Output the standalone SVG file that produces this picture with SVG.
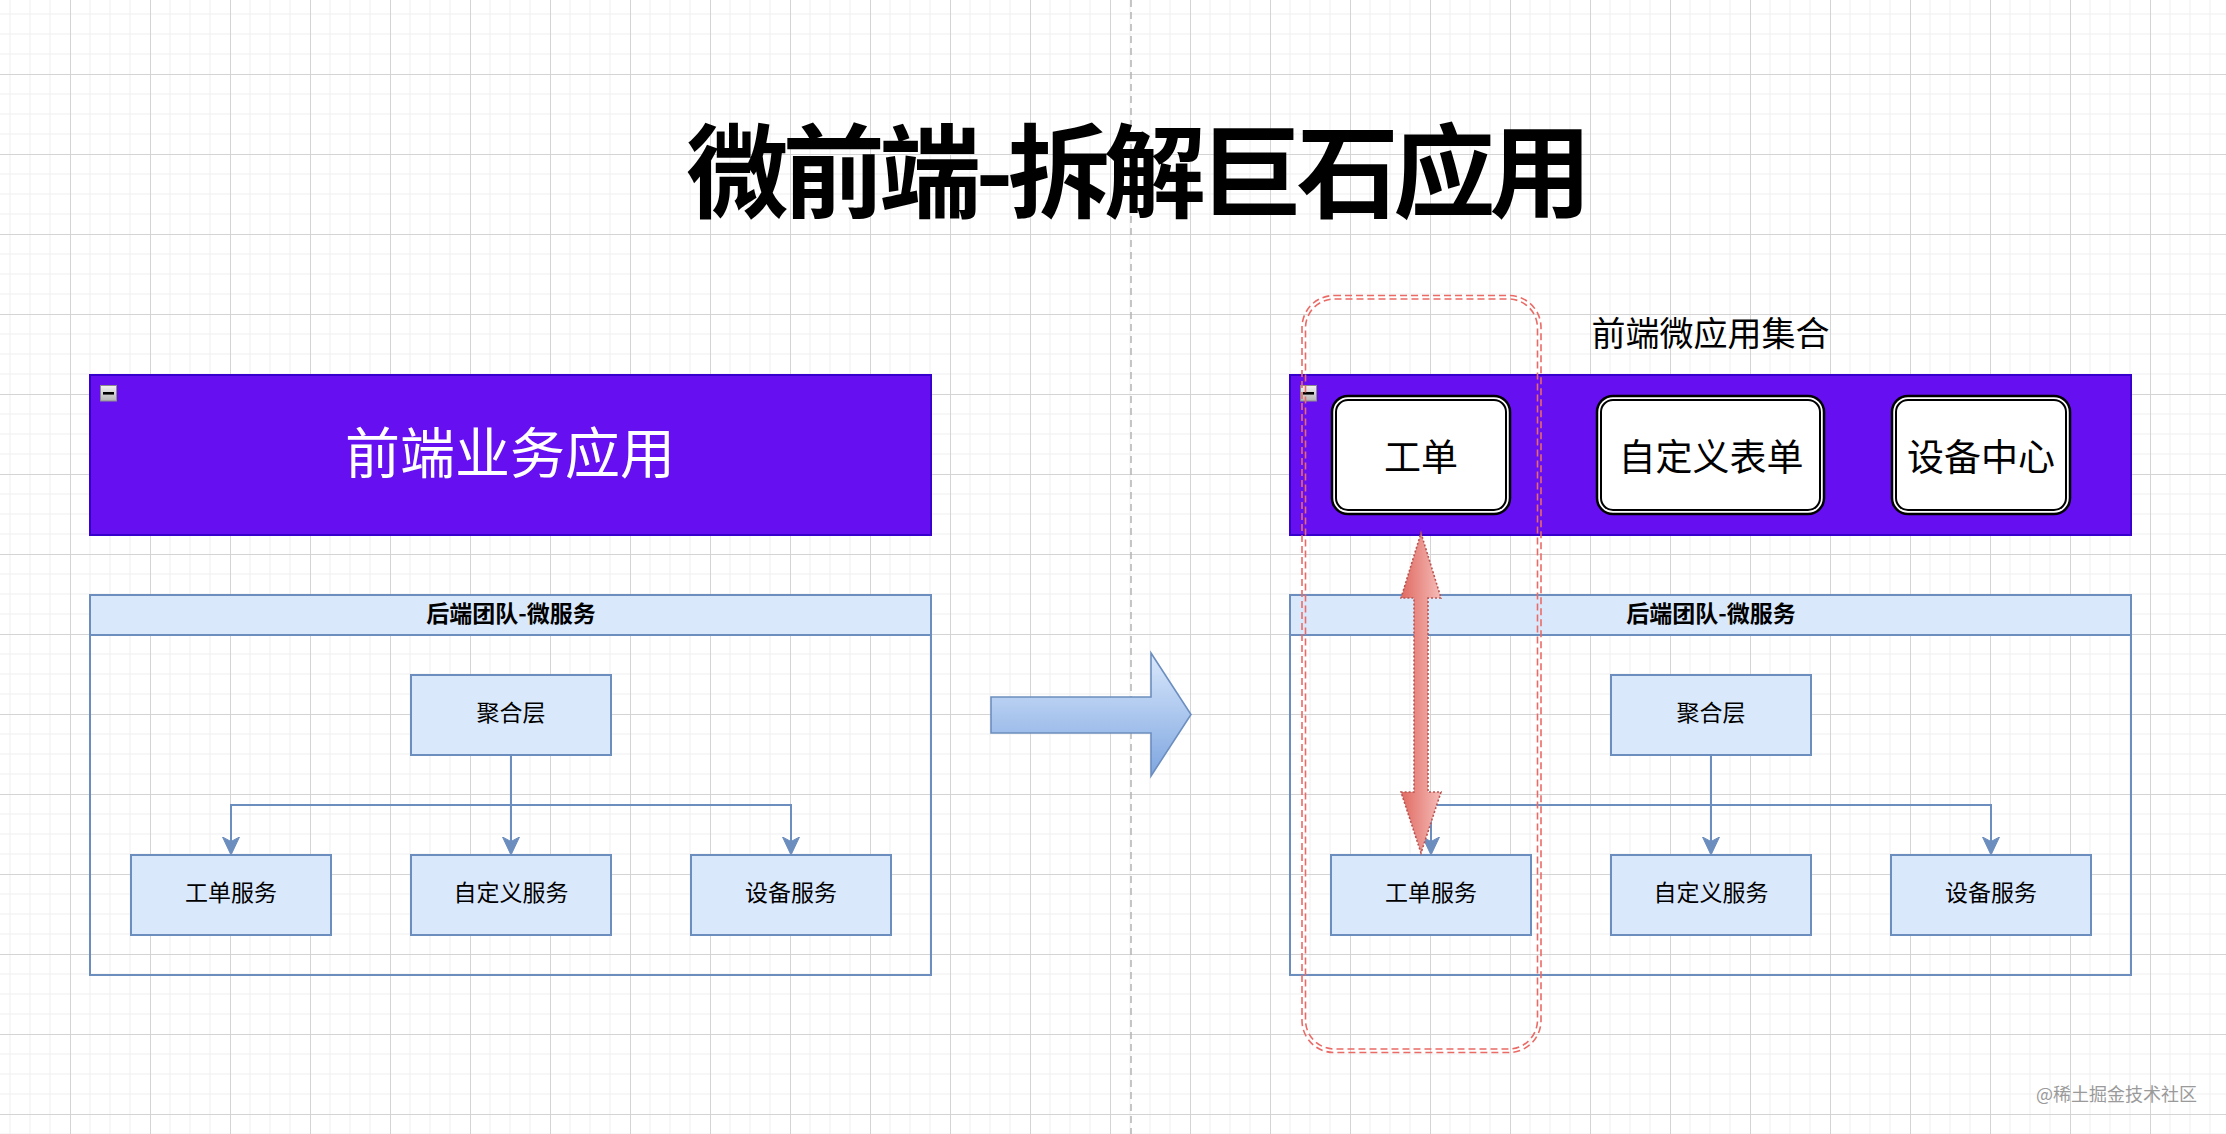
<svg xmlns="http://www.w3.org/2000/svg" width="2226" height="1134" viewBox="0 0 2226 1134">
<style>
.cjk{font-family:"Noto Sans CJK SC","Noto Sans",sans-serif;}
.svc{fill:#dae8fc;stroke:#6c8ebf;stroke-width:2;}
.svct{font-size:23px;fill:#000;text-anchor:middle;dominant-baseline:central;}
.hdr{font-size:23px;font-weight:bold;fill:#000;text-anchor:middle;dominant-baseline:central;}
.purple{fill:#6610f2;stroke:#3700cc;stroke-width:2;}
.edge{fill:none;stroke:#6c8ebf;stroke-width:2;}
.app{fill:#fff;stroke:#000;stroke-width:2.5;}
.appin{fill:none;stroke:#000;stroke-width:2;}
.appt{font-size:37px;fill:#000;text-anchor:middle;dominant-baseline:central;}
.red{fill:none;stroke:#ea6b66;stroke-width:1.6;stroke-dasharray:7 4;}
</style>
<defs>
<pattern id="grid" x="-10" y="-6" width="80" height="80" patternUnits="userSpaceOnUse">
<path d="M20 0V80M40 0V80M60 0V80M0 20H80M0 40H80M0 60H80" stroke="#efefef" stroke-width="1" fill="none"/>
<path d="M0.5 0V80M0 0.5H80" stroke="#d4d4d4" stroke-width="1" fill="none"/>
</pattern>
<linearGradient id="gBlue" x1="0" y1="0" x2="0" y2="1">
<stop offset="0" stop-color="#dae8fc"/>
<stop offset="1" stop-color="#7ea6e0"/>
</linearGradient>
<linearGradient id="gRed" x1="0" y1="0" x2="1" y2="0">
<stop offset="0" stop-color="#e06a62"/>
<stop offset="1" stop-color="#f5bcb8"/>
</linearGradient>
<linearGradient id="gIcon" x1="0" y1="0" x2="0" y2="1">
<stop offset="0" stop-color="#f4f4f4"/>
<stop offset="1" stop-color="#b4b4b4"/>
</linearGradient>
<marker id="arr" markerUnits="userSpaceOnUse" markerWidth="18" markerHeight="18" viewBox="0 0 18 18" refX="14" refY="9" orient="auto">
<path d="M0 0.5L18 9L0 17.5L4.5 9Z" fill="#6c8ebf" stroke="#6c8ebf" stroke-width="1"/>
</marker>
<g id="icon">
<rect x="0.5" y="0.5" width="16" height="15.5" fill="url(#gIcon)" stroke="#8c8c8c" stroke-width="1"/>
<rect x="3" y="7" width="11" height="2.6" fill="#000"/>
</g>
</defs>

<rect width="2226" height="1134" fill="#fff"/>
<rect width="2226" height="1134" fill="url(#grid)"/>
<line x1="1131" y1="0" x2="1131" y2="1134" stroke="#b4b4b4" stroke-width="1.5" stroke-dasharray="7 5"/>

<g id="title">
<text class="cjk" x="1139" y="165" font-size="102" font-weight="bold" text-anchor="middle" dominant-baseline="central" textLength="905" fill="#000">微前端-拆解巨石应用</text>
</g>

<g id="frontend-app">
<rect class="purple" x="90" y="375" width="841" height="160"/>
<use href="#icon" x="100" y="385"/>
<text class="cjk" x="510" y="449" font-size="55" fill="#fff" text-anchor="middle" dominant-baseline="central">前端业务应用</text>
</g>

<g id="backend-left">
<rect x="90" y="595" width="841" height="380" fill="none" stroke="#6c8ebf" stroke-width="2"/>
<rect class="svc" x="90" y="595" width="841" height="40"/>
<text class="cjk hdr" x="511" y="612">后端团队-微服务</text>
</g>
<g id="agg-left"><rect class="svc" x="411" y="675" width="200" height="80"/><text class="cjk svct" x="511" y="711">聚合层</text></g>
<g id="svc-ticket-left"><rect class="svc" x="131" y="855" width="200" height="80"/><text class="cjk svct" x="231" y="891">工单服务</text></g>
<g id="svc-custom-left"><rect class="svc" x="411" y="855" width="200" height="80"/><text class="cjk svct" x="511" y="891">自定义服务</text></g>
<g id="svc-device-left"><rect class="svc" x="691" y="855" width="200" height="80"/><text class="cjk svct" x="791" y="891">设备服务</text></g>

<g id="big-arrow">
<polygon points="991,697 1151,697 1151,653 1191,714.5 1151,776 1151,733 991,733" fill="url(#gBlue)" stroke="#6c8ebf" stroke-width="1.6" stroke-linejoin="miter"/>
</g>

<g id="micro-apps-label">
<text class="cjk" x="1710.5" y="331" font-size="34" fill="#000" text-anchor="middle" dominant-baseline="central">前端微应用集合</text>
</g>
<g id="frontend-micro">
<rect class="purple" x="1290" y="375" width="841" height="160"/>
<use href="#icon" x="1300" y="385"/>
</g>
<g id="app-ticket">
<rect class="app" x="1332" y="396" width="178" height="118" rx="16"/>
<rect class="appin" x="1336" y="400" width="170" height="110" rx="12"/>
<text class="cjk appt" x="1421" y="455">工单</text>
</g>
<g id="app-form">
<rect class="app" x="1597" y="396" width="227" height="118" rx="16"/>
<rect class="appin" x="1601" y="400" width="219" height="110" rx="12"/>
<text class="cjk appt" x="1711" y="455">自定义表单</text>
</g>
<g id="app-device">
<rect class="app" x="1892" y="396" width="178" height="118" rx="16"/>
<rect class="appin" x="1896" y="400" width="170" height="110" rx="12"/>
<text class="cjk appt" x="1981" y="455">设备中心</text>
</g>

<g id="backend-right">
<rect x="1290" y="595" width="841" height="380" fill="none" stroke="#6c8ebf" stroke-width="2"/>
<rect class="svc" x="1290" y="595" width="841" height="40"/>
<text class="cjk hdr" x="1711" y="612">后端团队-微服务</text>
</g>
<g id="agg-right"><rect class="svc" x="1611" y="675" width="200" height="80"/><text class="cjk svct" x="1711" y="711">聚合层</text></g>
<g id="svc-ticket-right"><rect class="svc" x="1331" y="855" width="200" height="80"/><text class="cjk svct" x="1431" y="891">工单服务</text></g>
<g id="svc-custom-right"><rect class="svc" x="1611" y="855" width="200" height="80"/><text class="cjk svct" x="1711" y="891">自定义服务</text></g>
<g id="svc-device-right"><rect class="svc" x="1891" y="855" width="200" height="80"/><text class="cjk svct" x="1991" y="891">设备服务</text></g>

<g id="connectors">
<path class="edge" d="M511 755V805H231V851" marker-end="url(#arr)"/>
<path class="edge" d="M511 805V851" marker-end="url(#arr)"/>
<path class="edge" d="M511 805H791V851" marker-end="url(#arr)"/>
<path class="edge" d="M1711 755V805H1431V851" marker-end="url(#arr)"/>
<path class="edge" d="M1711 805V851" marker-end="url(#arr)"/>
<path class="edge" d="M1711 805H1991V851" marker-end="url(#arr)"/>
<polygon points="1421,533 1441,598 1428,598 1428,792 1441,792 1421,853 1401,792 1414,792 1414,598 1401,598" fill="url(#gRed)" stroke="#b85450" stroke-width="1.6" stroke-dasharray="2 2"/>
</g>

<g id="highlight-group">
<rect class="red" x="1302" y="295.5" width="239" height="757" rx="32"/>
<rect class="red" x="1305.5" y="299" width="232" height="750" rx="29"/>
</g>

<g id="watermark">
<text class="cjk" x="2036" y="1093" font-size="18" fill="#9a9a9a" dominant-baseline="central">@稀土掘金技术社区</text>
</g>
</svg>
